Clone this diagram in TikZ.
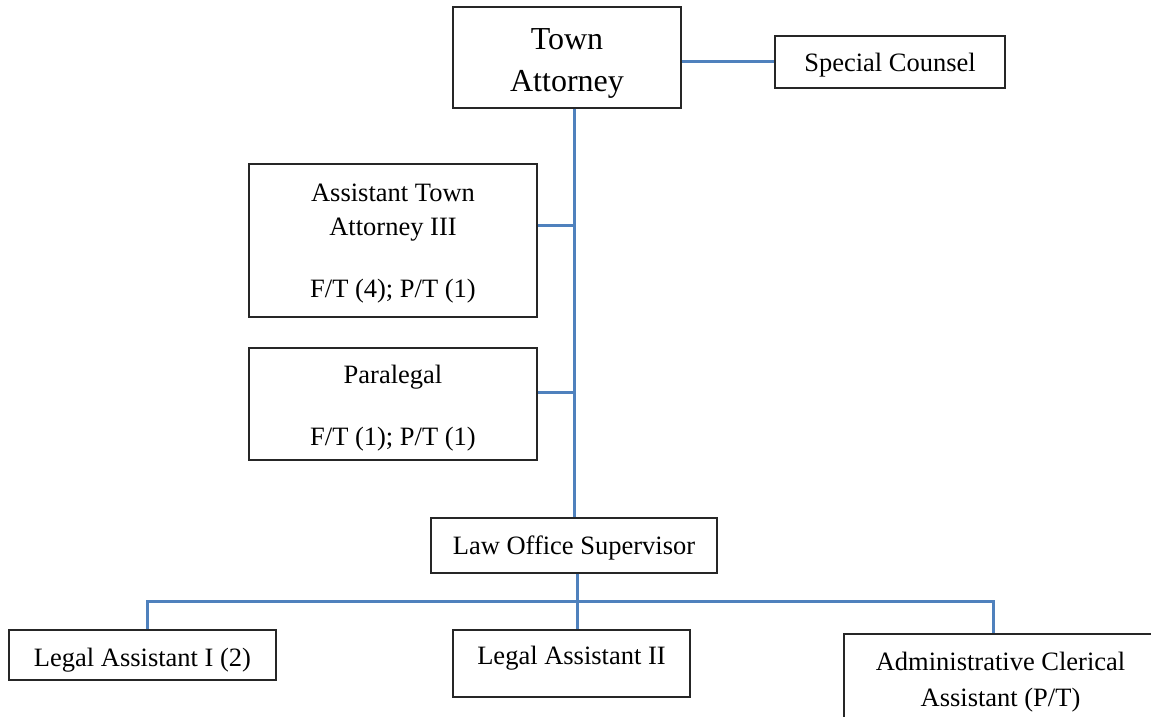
\documentclass[tikz,border=0pt]{standalone}
\usepackage{fontspec}
\setmainfont{Liberation Serif}
\definecolor{linkblue}{RGB}{79,129,189}
\tikzset{
  box/.style={draw=black!85, line width=1.3pt, inner sep=0pt},
  txt/.style={inner sep=0pt, align=center, font=\fontsize{26.5}{31}\selectfont},
  link/.style={draw=linkblue, line width=3pt}
}
\begin{document}
\begin{tikzpicture}[x=1pt,y=-1pt]
  \clip (0,0) rectangle (1151,717);
  \fill[white] (0,0) rectangle (1151,717);

  % position boxes, each with its title centred inside
  \node[box, minimum width=228pt, minimum height=101pt,
        label={[txt, font=\fontsize{32}{42}\selectfont, yshift=-6pt]center:{Town\\Attorney}}]
        (ta) at (567,57.5) {};
  \node[box, minimum width=230pt, minimum height=52pt,
        label={[txt, yshift=-3pt]center:{Special Counsel}}]
        (sc) at (890,62) {};
  \node[box, minimum width=288pt, minimum height=153pt,
        label={[txt, yshift=-3pt]center:{Assistant Town\\[3pt]Attorney III\\[31pt]F/T (4); P/T (1)}}]
        (ata) at (393,240.5) {};
  \node[box, minimum width=288pt, minimum height=112pt,
        label={[txt, yshift=-4pt]center:{Paralegal\\[31pt]F/T (1); P/T (1)}}]
        (para) at (393,404) {};
  \node[box, minimum width=286pt, minimum height=55pt,
        label={[txt, yshift=-2pt]center:{Law Office Supervisor}}]
        (los) at (574,545.5) {};
  \node[box, minimum width=267pt, minimum height=50pt,
        label={[txt, yshift=-5pt]center:{Legal Assistant I (2)}}]
        (la1) at (142.5,655) {};
  \node[box, minimum width=237pt, minimum height=67pt,
        label={[txt, yshift=5pt]center:{Legal Assistant II}}]
        (la2) at (571.5,663.5) {};
  \node[box, minimum width=313pt, minimum height=90pt,
        label={[txt, yshift=-3pt]center:{Administrative Clerical\\[5pt]Assistant (P/T)}}]
        (adm) at (1000.5,679) {};

  % reporting lines
  \draw[link] (sc.west -| ta.east) -- (sc.west);
  \draw[link] (ta.south -| los.north) -- (los.north);
  \draw[link] ([yshift=15.5pt]ata.east) -- ([yshift=15.5pt]ata.east -| los.north);
  \draw[link] ([yshift=12pt]para.east) -- ([yshift=12pt]para.east -| los.north);

  \coordinate (busL) at (147,601);
  \coordinate (busM) at (577,601);
  \coordinate (busR) at (993,601);
  \draw[link] (busM |- los.south) -- (busM) -- (busM |- la2.north);
  \draw[link] (busL |- la1.north) -- (busL) -- (busR) -- (busR |- adm.north);
\end{tikzpicture}
\end{document}
